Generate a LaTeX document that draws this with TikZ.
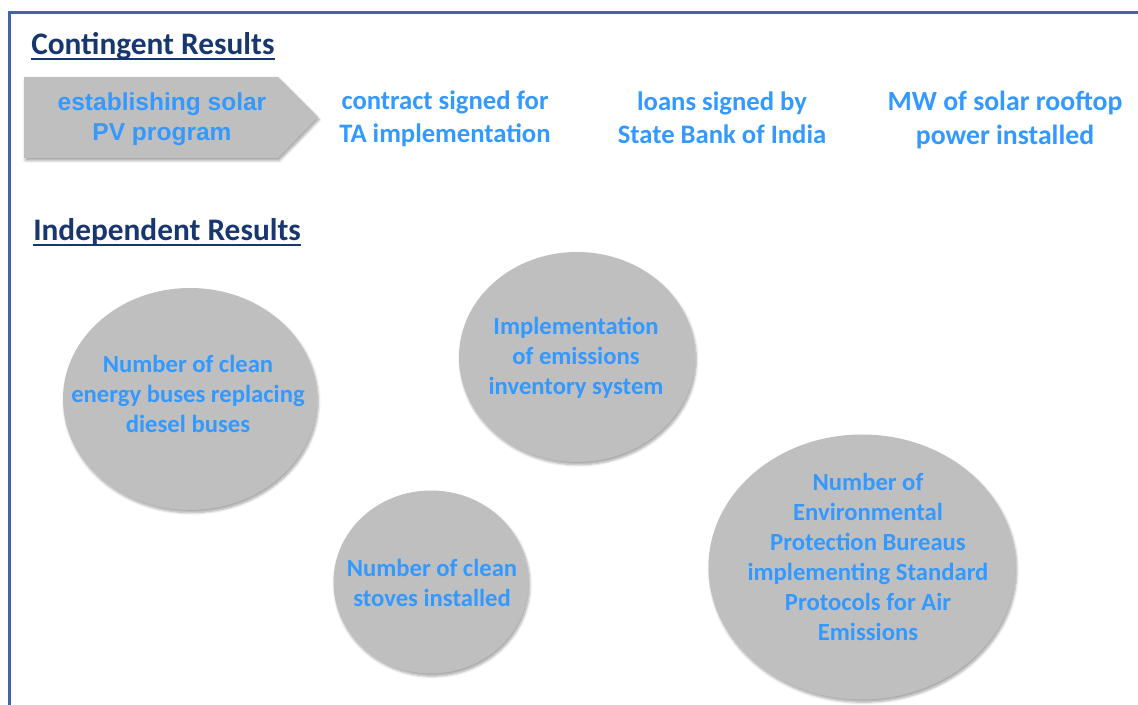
\documentclass[tikz,border=0pt]{standalone}
\usepackage{fontspec}
\setmainfont{Carlito}
\newfontfamily\arialbold{Liberation Sans}[BoldFont={* Bold}]
\usetikzlibrary{shapes.geometric,shadows.blur}

\definecolor{framecol}{RGB}{68,100,170}
\definecolor{navy}{RGB}{23,55,110}
\definecolor{skyblue}{RGB}{51,153,255}
\definecolor{shapegray}{RGB}{191,191,191}

\tikzset{
  heading/.style={anchor=base west, inner sep=0pt, text=navy,
    font=\bfseries\fontsize{23.5}{28}\selectfont},
  headrule/.style={draw=navy, line width=1.1pt},
  toptext/.style={align=center, text=skyblue, inner sep=0pt,
    font=\bfseries\fontsize{20}{24.5}\selectfont},
  blobtext/.style={align=center, text=skyblue, inner sep=0pt,
    font=\bfseries\fontsize{18.5}{22.5}\selectfont},
  blob/.style={ellipse, fill=shapegray, draw=none, inner sep=0pt, outer sep=0pt,
    blur shadow={shadow xshift=1pt, shadow yshift=-2pt, shadow opacity=35,
      shadow blur steps=6}},
}

\begin{document}
\begin{tikzpicture}[x=0.75pt, y=-0.75pt]
\useasboundingbox (0,0) rectangle (1138,705);

% page frame (left and top edges)
\draw[framecol, line width=1.8pt] (9.5,705) -- (9.5,12.5) -- (1138,12.5);

% headings
\node[heading] (conth) at (31,55) {Contingent Results};
\draw[headrule] ([yshift=-3pt]conth.base west) -- ([yshift=-3pt]conth.base east);
\node[heading] (indh) at (33,241) {Independent Results};
\draw[headrule] ([yshift=-3pt]indh.base west) -- ([yshift=-3pt]indh.base east);

% contingent chain
\fill[shapegray, blur shadow={shadow xshift=1pt, shadow yshift=-2pt,
      shadow opacity=35, shadow blur steps=6}]
  (24,77) -- (278,77) -- (318,117) -- (278,158) -- (24,158) -- cycle;
\node[align=center, text=skyblue, inner sep=0pt,
      font=\arialbold\bfseries\fontsize{18.4}{22.5}\selectfont]
  (pv) at (162,119) {establishing solar\\PV program};
\node[toptext] (ta) at (445,119) {contract signed for\\TA implementation};
\node[toptext] (sbi) at (722,118) {loans signed by\\State Bank of India};
\node[toptext, font=\bfseries\fontsize{20.8}{25.5}\selectfont]
  (mw) at (1005,120) {MW of solar rooftop\\power installed};

% independent results
\node[blob, minimum width=190.5pt, minimum height=166.5pt] (busesE) at (190,399) {};
\node[blobtext] (buses) at (188,394) {Number of clean\\energy buses replacing\\diesel buses};

\node[blob, minimum width=177pt, minimum height=157.5pt] (invE) at (577,357) {};
\node[blobtext] (inv) at (576,358) {Implementation\\of emissions\\inventory system};

\node[blob, minimum width=146.25pt, minimum height=137.25pt] (stoveE) at (431,582) {};
\node[blobtext] (stove) at (432,583) {Number of clean\\stoves installed};

\node[blob, minimum width=230.25pt, minimum height=198.75pt] (epbE) at (862,567) {};
\node[blobtext] (epb) at (868,557) {Number of\\Environmental\\Protection Bureaus\\implementing Standard\\Protocols for Air\\Emissions};
\end{tikzpicture}
\end{document}
